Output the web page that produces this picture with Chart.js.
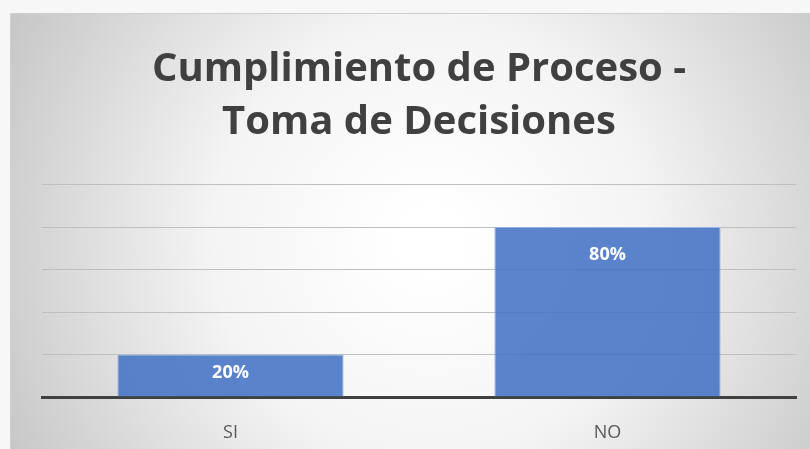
<!DOCTYPE html>
<html><head><meta charset="utf-8">
<script src="https://cdn.jsdelivr.net/npm/chart.js@4/dist/chart.umd.min.js"></script>
<style>html,body{margin:0;padding:0;background:#f6f6f6;}#wrap{width:810px;height:449px;}</style>
</head><body><div id="wrap"><canvas id="c" width="810" height="449"></canvas></div>
<script>
const categories = ["SI", "NO"];
const values = [20, 80];
const valueLabels = ["20%", "80%"];
const titleLines = ["Cumplimiento de Proceso -", "Toma de Decisiones"];

const bgPlugin = {
  id: 'bg',
  beforeDraw(chart) {
    const ctx = chart.ctx;
    ctx.save();
    ctx.fillStyle = '#f7f7f7';
    ctx.fillRect(0, 0, 810, 449);
    const g = ctx.createRadialGradient(430, 240, 30, 430, 240, 500);
    g.addColorStop(0, '#ffffff');
    g.addColorStop(0.4, '#f4f4f4');
    g.addColorStop(1, '#c2c2c2');
    ctx.fillStyle = g;
    ctx.fillRect(10, 13, 800, 436);
    ctx.strokeStyle = '#cfcfcf';
    ctx.lineWidth = 1;
    ctx.beginPath();
    ctx.moveTo(10, 13.5); ctx.lineTo(810, 13.5);
    ctx.moveTo(10.5, 13); ctx.lineTo(10.5, 449);
    ctx.stroke();
    ctx.restore();
  }
};

const labelPlugin = {
  id: 'vlabels',
  afterDatasetsDraw(chart) {
    const ctx = chart.ctx;
    const meta = chart.getDatasetMeta(0);
    ctx.save();
    ctx.font = 'bold 18px "Open Sans", sans-serif';
    ctx.fillStyle = '#ffffff';
    ctx.textAlign = 'center';
    ctx.textBaseline = 'middle';
    meta.data.forEach((bar, i) => {
      const top = bar.y, bottom = bar.base;
      const y = Math.min(top + 28, (top + bottom) / 2 - 3);
      ctx.fillText(valueLabels[i], bar.x, y);
    });
    ctx.restore();
  }
};

new Chart(document.getElementById('c'), {
  type: 'bar',
  data: {
    labels: categories,
    datasets: [{
      data: values,
      backgroundColor: 'rgba(68,114,196,0.87)',
      borderColor: 'rgba(150,178,226,1)',
      borderWidth: 1,
      barPercentage: 0.6,
      categoryPercentage: 1.0
    }]
  },
  options: {
    responsive: false,
    animation: false,
    devicePixelRatio: 1,
    layout: { padding: { left: 42, right: 14, top: 43, bottom: 0 } },
    plugins: {
      legend: { display: false },
      tooltip: { enabled: false },
      title: {
        display: true,
        text: titleLines,
        color: '#404040',
        font: { family: '"Open Sans", sans-serif', size: 40, weight: 'bold', lineHeight: 1.32 },
        padding: { top: 0, bottom: 36 }
      }
    },
    scales: {
      x: {
        afterFit(scale) { scale.height = 52; },
        grid: { display: false },
        border: { display: true, color: '#404040', width: 3 },
        ticks: { color: '#595959', font: { family: '"Open Sans", sans-serif', size: 18 }, padding: 17 }
      },
      y: {
        min: 0, max: 100,
        ticks: { display: false, stepSize: 20 },
        grid: { color: '#bfbfbf', lineWidth: 1, drawTicks: false },
        border: { display: false }
      }
    }
  },
  plugins: [bgPlugin, labelPlugin]
});
</script></body></html>
